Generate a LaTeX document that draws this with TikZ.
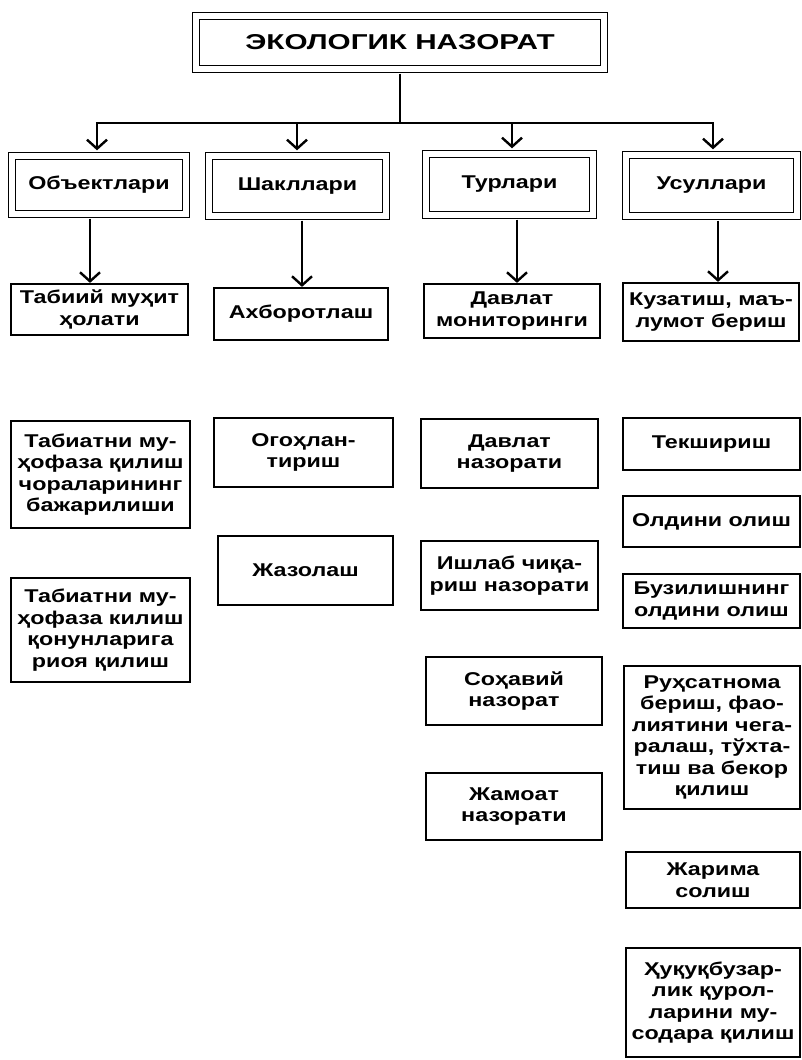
\documentclass[tikz,border=0pt]{standalone}
\usepackage{fontspec}
\setmainfont[FakeStretch=1.26]{Liberation Sans}
\newfontfamily\titlefont[FakeStretch=1.38]{Liberation Sans}
\usetikzlibrary{arrows.meta}
\newcommand\mybox[7][box]{%
  \node[#1, minimum width={(#5)-(#3)}, minimum height={(#6)-(#4)}] (#2)
    at ({((#3)+(#5))/2},{((#4)+(#6))/2}) {#7};}
\begin{document}
\begin{tikzpicture}[x=1pt,y=-1pt,
  box/.style={draw, line width=2.2pt, inner sep=0pt, align=center,
    font=\fontsize{18.5}{21.5}\selectfont\bfseries},
  dbox/.style={draw, line width=1.4pt, double, double distance=5.5pt,
    inner sep=0pt, align=center, font=\fontsize{18.5}{22}\selectfont\bfseries},
  tbox/.style={dbox, font=\titlefont\fontsize{21.5}{25}\selectfont\bfseries},
  conn/.style={line width=2.4pt},
  arr/.style={conn, -{Straight Barb[length=9pt,width=20pt,line width=2.4pt]}}
]
\useasboundingbox[fill=white] (0,0) rectangle (802,1060);

% title
\mybox[tbox]{title}{196}{16}{604}{69}{ЭКОЛОГИК НАЗОРАТ}

% categories
\mybox[dbox]{obj}{12}{156}{186}{214}{Объектлари}
\mybox[dbox]{shak}{209}{156}{386}{216}{Шакллари}
\mybox[dbox]{tur}{426}{154}{593}{215}{Турлари}
\mybox[dbox]{usul}{626}{155}{797}{216}{Усуллари}

% level 2
\mybox{tab}{11}{284}{188}{335}{Табиий муҳит\\ҳолати}
\mybox{ax}{214}{288}{388}{340}{Ахборотлаш}
\mybox{dm}{424}{284}{600}{338}{Давлат\\мониторинги}
\mybox{kz}{623}{283}{799}{341}{Кузатиш, маъ-\\лумот бериш}

% column 1
\mybox{t1}{11}{421}{190}{528}{Табиатни му-\\ҳофаза қилиш\\чораларининг\\бажарилиши}
\mybox{t2}{11}{578}{190}{682}{Табиатни му-\\ҳофаза килиш\\қонунларига\\риоя қилиш}

% column 2
\mybox{og}{214}{418}{393}{487}{Огоҳлан-\\тириш}
\mybox{zh}{218}{536}{393}{605}{Жазолаш}

% column 3
\mybox{dn}{421}{419}{598}{488}{Давлат\\назорати}
\mybox{ich}{421}{541}{598}{610}{Ишлаб чиқа-\\риш назорати}
\mybox{sox}{426}{657}{602}{725}{Соҳавий\\назорат}
\mybox{zham}{426}{773}{602}{840}{Жамоат\\назорати}

% column 4
\mybox{tek}{623}{418}{800}{470}{Текшириш}
\mybox{old}{623}{496}{800}{547}{Олдини олиш}
\mybox{buz}{623}{574}{800}{628}{Бузилишнинг\\олдини олиш}
\mybox{rux}{624}{666}{800}{809}{Руҳсатнома\\бериш, фао-\\лиятини чега-\\ралаш, тўхта-\\тиш ва бекор\\қилиш}
\mybox{zhar}{626}{852}{800}{908}{Жарима\\солиш}
\mybox{huq}{626}{948}{800}{1057}{Ҳуқуқбузар-\\лик қурол-\\ларини му-\\содара қилиш}

% bus
\coordinate (bus) at (400,123);
\coordinate (b1) at (97,123);
\coordinate (b2) at (297,123);
\coordinate (b3) at (512,123);
\coordinate (b4) at (713,123);
\draw[conn, shorten <=4pt] (title.south) -- (bus);
\draw[conn] ([xshift=-1.2pt]b1) -- ([xshift=1.2pt]b4);
\foreach \c/\n in {b1/obj,b2/shak,b3/tur,b4/usul}
  \draw[arr, shorten >=5pt] (\c) -- (\c |- \n.north);

% category to level 2
\draw[arr, shorten <=4pt] ([xshift=-9pt]obj.south) -- ([xshift=-9pt]obj.south |- tab.north);
\draw[arr, shorten <=4pt] ([xshift=4.5pt]shak.south) -- ([xshift=4.5pt]shak.south |- ax.north);
\draw[arr, shorten <=4pt] ([xshift=7.5pt]tur.south) -- ([xshift=7.5pt]tur.south |- dm.north);
\draw[arr, shorten <=4pt] ([xshift=6.5pt]usul.south) -- ([xshift=6.5pt]usul.south |- kz.north);
\end{tikzpicture}
\end{document}
